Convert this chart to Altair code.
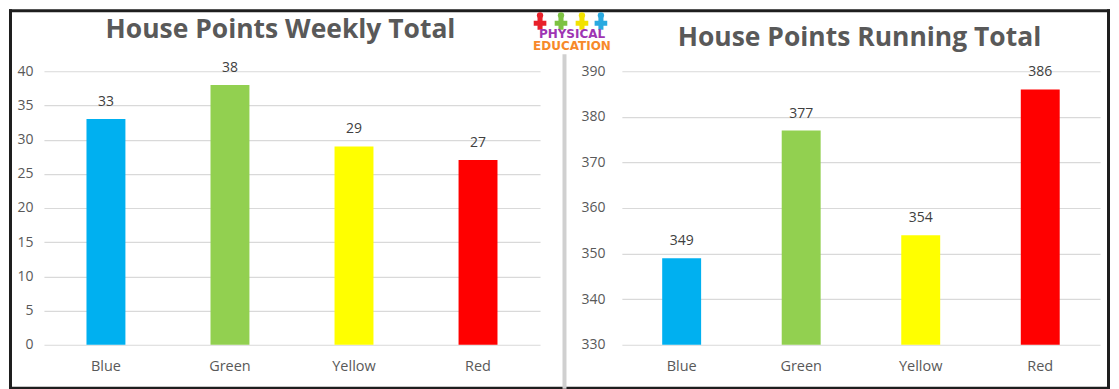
import altair as alt
import pandas as pd

# ---- data -------------------------------------------------------------
houses = ["Blue", "Green", "Yellow", "Red"]
house_colors = ["#00B0F0", "#92D050", "#FFFF00", "#FF0000"]
weekly_points = [33, 38, 29, 27]
running_points = [349, 377, 354, 386]
weekly_ticks = [0, 5, 10, 15, 20, 25, 30, 35, 40]
running_ticks = [330, 340, 350, 360, 370, 380, 390]
titles = ["House Points Weekly Total", "House Points Running Total"]
logo_words = ["PHYSICAL", "EDUCATION"]
logo_word_colors = ["#9E35B3", "#F7892A"]
figure_colors = ["#E8202A", "#7DC242", "#F2E200", "#29A9E0"]

FONT = "Open Sans"
GRID = "#D9D9D9"
LABEL = "#595959"
W1, W2, H = 497, 479, 274
SPACING = 82


def one(**kw):
    return alt.Chart(pd.DataFrame([kw]))


def panel(values, ticks, ypad):
    df = pd.DataFrame({"house": houses, "points": values, "color": house_colors,
                       "base": [ticks[0]] * len(houses)})
    base = alt.Chart(df).encode(
        x=alt.X(
            "house:N",
            sort=houses,
            title=None,
            scale=alt.Scale(paddingInner=0, paddingOuter=0),
            axis=alt.Axis(labelAngle=0, labelFontSize=14.5, labelPadding=15,
                          domain=False, ticks=False, grid=False),
        ),
        y=alt.Y(
            "points:Q",
            title=None,
            scale=alt.Scale(domain=[ticks[0], ticks[-1]], nice=False, zero=False, clamp=True),
            axis=alt.Axis(values=ticks, labelFontSize=14, labelPadding=ypad,
                          domain=False, ticks=False, grid=True,
                          gridColor=GRID, gridWidth=1.2),
        ),
    )
    bars = base.mark_bar(size=39).encode(
        y2="base:Q", color=alt.Color("color:N", scale=None))
    labels = base.mark_text(
        dy=-13, baseline="alphabetic", font=FONT, fontSize=14, color="#404040"
    ).encode(text="points:Q")
    return bars, labels


# decorations drawn relative to left plot origin (pixels)
def rule(x1, x2, y1, y2, color, sw):
    return one(k=1).mark_rule(color=color, strokeWidth=sw, strokeCap="square").encode(
        x=alt.value(x1), x2=alt.value(x2), y=alt.value(y1), y2=alt.value(y2)
    )


def text(s, x, y, size, color, font=FONT):
    return one(t=s).mark_text(
        font=font, fontSize=size, fontWeight="bold",
        color=color, align="center", baseline="alphabetic",
    ).encode(x=alt.value(x), y=alt.value(y), text="t:N")


L, T, R, B = -33.5, -60.5, 1066.5, 317.5
decor = [
    rule(L, L, T, B, "#1E1E1E", 3),
    rule(R, R, T, B, "#1E1E1E", 3),
    rule(L, R, T, T, "#1E1E1E", 3),
    rule(L, R, B, B, "#1E1E1E", 3),
    rule(521.5, 521.5, -15, B - 1.5, "#D0D0D0", 4),
    text(titles[0], 237, -33, 26.5, LABEL),
    text(titles[1], 817, -25, 26.5, LABEL),
]
fig_x = [497, 518, 539, 558]
for fx, fc in zip(fig_x, figure_colors):
    decor.append(one(k=1).mark_point(shape="circle", filled=True, size=40, color=fc, opacity=1)
                 .encode(x=alt.value(fx), y=alt.value(-56)))
    decor.append(one(k=1).mark_point(shape="cross", filled=True, size=160, color=fc, opacity=1)
                 .encode(x=alt.value(fx), y=alt.value(-48)))
decor.append(text(logo_words[0], 529, -33, 12, logo_word_colors[0], font="DejaVu Sans"))
decor.append(text(logo_words[1], 529, -21, 12, logo_word_colors[1], font="DejaVu Sans"))

b1, l1 = panel(weekly_points, weekly_ticks, 11)
b2, l2 = panel(running_points, running_ticks, 17)

left = alt.layer(b1, l1, *decor).properties(width=W1, height=H)
right = alt.layer(b2, l2).properties(width=W2, height=H)

chart = (
    alt.hconcat(left, right, spacing=SPACING, bounds="flush")
    .properties(padding=0, background="white")
    .configure_view(strokeWidth=0)
    .configure_axis(labelFont=FONT, labelColor=LABEL)
)

chart.save("out.html", embed_options={"renderer": "svg", "actions": False})
